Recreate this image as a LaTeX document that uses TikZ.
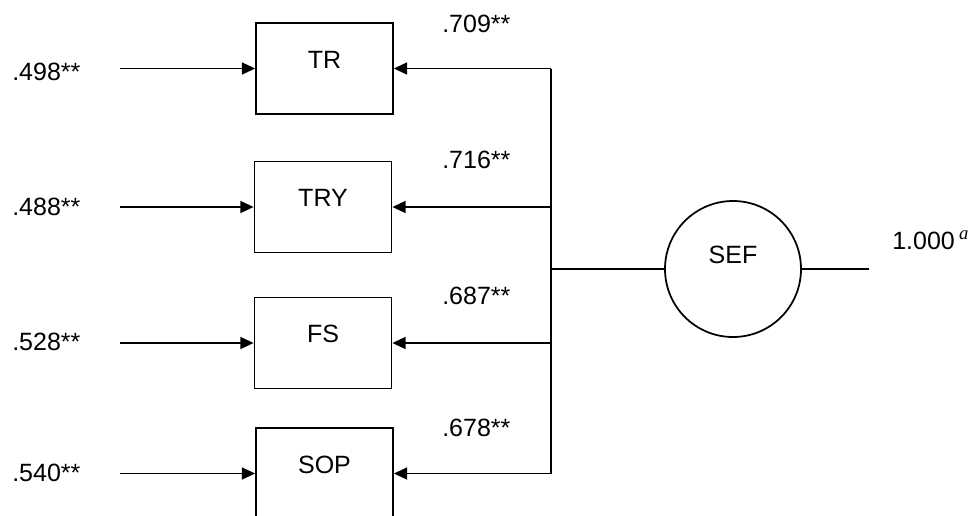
\documentclass[tikz,border=0pt]{standalone}
\usepackage{fontspec}
\setmainfont{Liberation Sans}
\newfontfamily\kursiv{Liberation Serif}
\usetikzlibrary{arrows.meta}
\tikzset{
	kasten/.style={draw,line width=1.3pt,minimum width=102.75pt,minimum height=68.25pt,inner sep=0pt,label={[yshift=6.5pt,inner sep=0pt]center:#1}},
	faktor/.style={draw,circle,line width=1.3pt,minimum size=102pt,inner sep=0pt,label={[yshift=10.5pt,inner sep=0pt]center:#1}},
	wert/.style={inner sep=0pt,anchor=west},
	pfeil/.style={line width=1.3pt,-{Triangle[length=10pt,width=9pt]}},
	linie/.style={line width=1.3pt}
}
\begin{document}
\begin{tikzpicture}[x=0.75pt,y=-0.75pt,font=\fontsize{18.75}{22}\selectfont]
				\path[use as bounding box,clip] (0,0) rectangle (970,515);
				% Indikatoren
				\node[kasten=TR] (tr) at (324.5,68.5) {};
				\node[kasten=TRY] (try) at (323,207) {};
				\node[kasten=FS] (fs) at (323,343) {};
				\node[kasten=SOP] (sop) at (324.5,473.5) {};
				% Faktor
				\node[faktor=SEF] (sef) at (733,269) {};
				\coordinate (hub) at (551,269);
				\coordinate (aus) at (869,269);
				% linke Pfeile
				\coordinate (e1) at (120,68.5);
				\coordinate (e2) at (120,207);
				\coordinate (e3) at (120,343);
				\coordinate (e4) at (120,473.5);
				\draw[pfeil] (e1) -- (tr);
				\draw[pfeil] (e2) -- (try);
				\draw[pfeil] (e3) -- (fs);
				\draw[pfeil] (e4) -- (sop);
				\node[wert] (f1) at (12,72) {.498**};
				\node[wert] (f2) at (12,207) {.488**};
				\node[wert] (f3) at (12,342) {.528**};
				\node[wert] (f4) at (12,473) {.540**};
				% rechte Pfeile
				\draw[linie] (hub |- tr.east) -- (hub |- sop.east);
				\draw[pfeil] (hub |- tr.east) -- (tr.east);
				\draw[pfeil] (hub |- try.east) -- (try.east);
				\draw[pfeil] (hub |- fs.east) -- (fs.east);
				\draw[pfeil] (hub |- sop.east) -- (sop.east);
				\node[wert] (l1) at (442,24) {.709**};
				\node[wert] (l2) at (442,160) {.716**};
				\node[wert] (l3) at (442,296) {.687**};
				\node[wert] (l4) at (442,428) {.678**};
				% Faktor rechts
				\draw[linie] (hub) -- (sef);
				\draw[linie] (sef) -- (aus);
				\node[wert] (r) at (892,240) {1.000\,\raisebox{0.4em}{\fontsize{14}{14}\kursiv\itshape a}};
			\end{tikzpicture}
\end{document}
